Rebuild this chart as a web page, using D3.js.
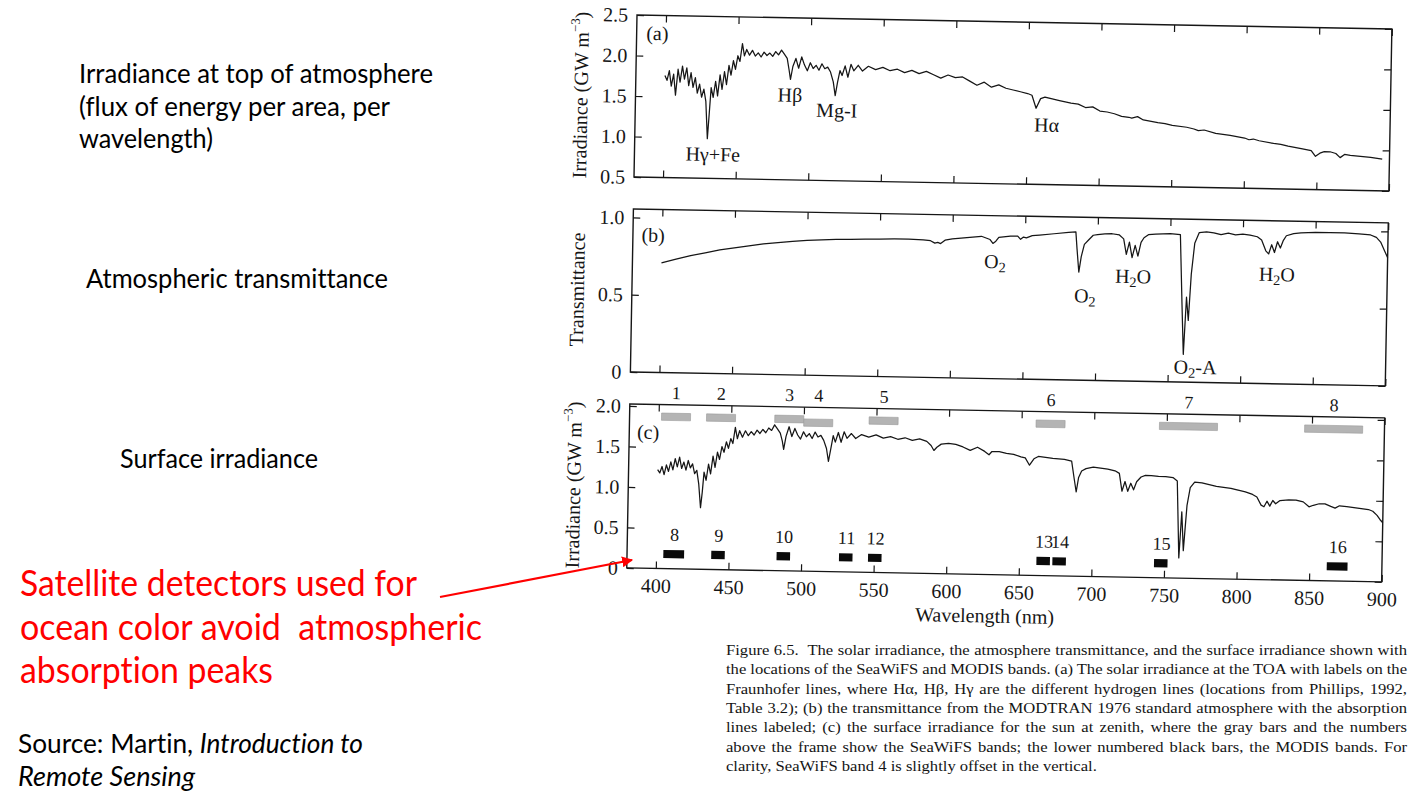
<!DOCTYPE html>
<html><head><meta charset="utf-8">
<script src="https://cdn.jsdelivr.net/npm/d3@7"></script>
<style>html,body{margin:0;padding:0;background:#fff;}svg{display:block;}</style>
</head><body>
<svg id="chart" width="1428" height="796"></svg>
<script>
// ---------------- data ----------------
const toaWavelength = [400,401.5,403,404.5,406,407.5,409,410.5,412,413.5,415,416.5,418,419.5,421,422.5,424,425.5,427,428.5,430,431,432,433.5,435,436.5,438,439.5,441,442.5,444,445.5,447,448.5,450,451.5,453,454.5,456,458,460,462,464,466,468,470,472,474,476,478,480,482,484,485.5,486.5,488,490,492,494,496,498,500,502,504,506,508,510,512,514,516,517.5,519,520.5,522,524,526,528,530,533,536,540,545,550,555,560,565,570,575,580,585,590,595,600,605,610,615,620,625,630,635,640,645,650,653,656,659,662,667,672,680,685,690,695,700,705,710,715,720,722,726,730,740,745,750,760,765,768,772,780,785,790,800,803,806,810,820,825,830,840,846,849,852,855,859,863,866,869,873,880,887,895];
const toaIrradiance = [1.76,1.70,1.82,1.63,1.78,1.52,1.84,1.68,1.88,1.72,1.86,1.64,1.80,1.62,1.74,1.55,1.66,1.50,1.60,1.45,0.99,1.30,1.62,1.50,1.70,1.52,1.78,1.60,1.82,1.66,1.90,1.78,1.96,1.85,2.02,1.95,2.17,2.02,2.10,2.03,2.09,2.02,2.06,2.01,2.07,2.03,2.06,2.02,2.08,2.04,2.10,2.05,2.00,1.85,1.74,1.90,2.00,1.88,2.02,1.92,1.85,1.95,1.88,1.92,1.86,1.94,1.88,1.90,1.84,1.72,1.55,1.72,1.86,1.80,1.92,1.78,1.94,1.86,1.93,1.86,1.92,1.88,1.91,1.87,1.89,1.85,1.88,1.84,1.87,1.83,1.79,1.83,1.80,1.81,1.76,1.71,1.75,1.69,1.72,1.68,1.66,1.64,1.62,1.60,1.44,1.56,1.58,1.56,1.54,1.51,1.50,1.46,1.47,1.42,1.41,1.39,1.36,1.35,1.34,1.36,1.32,1.29,1.28,1.26,1.24,1.22,1.20,1.21,1.17,1.16,1.15,1.12,1.10,1.11,1.09,1.06,1.05,1.03,1.00,0.98,0.91,0.95,0.97,0.97,0.95,0.90,0.94,0.93,0.92,0.91,0.89];

const transWavelength = [400,410,420,430,440,450,460,470,480,490,500,510,520,530,540,550,560,570,580,585,588,590,592,595,600,610,620,626,628,630,632,640,645,647,649,651,655,660,670,680,685,686,687.5,689,691,694,697,700,705,710,715,718,720,722,724,726,728,730,732,735,740,750,757,759,760.5,762,763.5,765,767,770,775,780,785,790,795,800,805,810,813,816,818,820,822,824,826,828,830,835,840,850,860,870,880,888,892,895,898,900];
const transmittance = [0.71,0.735,0.76,0.78,0.80,0.815,0.83,0.845,0.855,0.865,0.872,0.878,0.882,0.885,0.888,0.89,0.892,0.893,0.89,0.885,0.87,0.875,0.868,0.89,0.90,0.91,0.92,0.90,0.875,0.89,0.915,0.925,0.925,0.905,0.92,0.915,0.93,0.935,0.945,0.955,0.96,0.85,0.70,0.80,0.88,0.91,0.94,0.945,0.95,0.952,0.945,0.92,0.82,0.90,0.80,0.88,0.81,0.90,0.93,0.95,0.955,0.96,0.955,0.50,0.18,0.55,0.40,0.70,0.90,0.97,0.975,0.97,0.96,0.97,0.96,0.965,0.96,0.95,0.93,0.86,0.84,0.90,0.85,0.92,0.88,0.93,0.96,0.975,0.98,0.985,0.985,0.985,0.98,0.975,0.96,0.93,0.87,0.83];

const sfcWavelength = [400,401.5,403,404.5,406,407.5,409,410.5,412,413.5,415,416.5,418,419.5,421,422.5,424,425.5,427,428.5,430,431,432,433.5,435,436.5,438,439.5,441,442.5,444,445.5,447,448.5,450,451.5,453,454.5,456,458,460,462,464,466,468,470,472,474,476,478,480,482,484,485.5,486.5,488,490,492,494,496,498,500,502,504,506,508,510,512,514,516,517.5,519,520.5,522,524,526,528,530,533,536,540,545,550,555,560,565,570,575,580,585,588,590,592,595,600,605,610,615,620,625,628,630,635,640,645,650,653,656,659,662,667,672,680,685,687,688.5,690,692,695,700,705,710,715,718,720,722,724,726,728,730,733,736,740,745,750,755,758,760,761.5,763,765,767,770,775,780,785,790,795,800,805,810,813,816,818,820,822,824,826,829,835,840,845,849,852,856,860,864,867,870,875,880,885,890,893,896,898,900];
const sfcIrradiance = [1.22,1.18,1.26,1.16,1.28,1.20,1.32,1.22,1.36,1.26,1.38,1.24,1.32,1.22,1.34,1.25,1.30,1.18,1.22,1.05,0.76,0.95,1.20,1.10,1.30,1.18,1.40,1.26,1.45,1.36,1.52,1.45,1.58,1.50,1.62,1.56,1.76,1.62,1.72,1.64,1.72,1.66,1.71,1.67,1.73,1.69,1.74,1.70,1.76,1.73,1.80,1.75,1.70,1.60,1.50,1.66,1.78,1.66,1.76,1.68,1.63,1.72,1.66,1.70,1.64,1.72,1.66,1.68,1.62,1.52,1.36,1.52,1.68,1.60,1.72,1.60,1.73,1.65,1.71,1.65,1.70,1.67,1.70,1.66,1.68,1.65,1.67,1.64,1.66,1.63,1.58,1.52,1.56,1.60,1.61,1.60,1.57,1.53,1.57,1.52,1.48,1.52,1.52,1.50,1.49,1.46,1.45,1.36,1.44,1.47,1.46,1.45,1.44,1.42,1.20,1.04,1.22,1.30,1.33,1.35,1.34,1.33,1.31,1.28,1.06,1.18,1.06,1.16,1.08,1.18,1.24,1.26,1.26,1.25,1.25,1.24,1.20,0.25,0.82,0.34,0.90,1.12,1.19,1.18,1.16,1.14,1.13,1.12,1.10,1.08,1.05,1.02,0.92,0.90,0.97,0.91,0.98,0.94,0.98,0.99,0.99,0.97,0.91,0.93,0.95,0.95,0.92,0.90,0.93,0.92,0.91,0.90,0.89,0.87,0.82,0.77,0.73];

const seawifsBand = ["1","2","3","4","5","6","7","8"];
const seawifsLow  = [402,433,480,500,545,660,745,845];
const seawifsHigh = [422,453,500,520,565,680,785,885];
const seawifsTop  = [1.92,1.92,1.92,1.88,1.92,1.92,1.92,1.92];
const seawifsBottom = [1.83,1.83,1.83,1.79,1.83,1.83,1.83,1.83];

const modisBand = ["8","9","10","11","12","13","14","15","16"];
const modisLow  = [405,438,483,526,546,662,673,743,862];
const modisHigh = [420,448,493,536,556,672,683,753,877];

const wavelengthTicks = [400,450,500,550,600,650,700,750,800,850,900];
const irradianceTicksA = [0.5,1.0,1.5,2.0,2.5];
const transmittanceTicks = [0,0.5,1.0];
const irradianceTicksC = [0,0.5,1.0,1.5,2.0];

const fraunhoferLabels = ["Hγ+Fe","Hβ","Mg-I","Hα"];
const fraunhoferAt = [434,486.4,518.8,663.5];
const fraunhoferLevel = [0.80,1.55,1.37,1.24];

const absorptionLabels = ["O_2","O_2","H_2O","O_2-A","H_2O"];
const absorptionAt = [629.7,692,725,768.8,823.9];
const absorptionLevel = [0.76,0.55,0.68,0.10,0.71];

const captionLines = [
 "Figure 6.5.  The solar irradiance, the atmosphere transmittance, and the surface irradiance shown with",
 "the locations of the SeaWiFS and MODIS bands. (a) The solar irradiance at the TOA with labels on the",
 "Fraunhofer lines, where Hα, Hβ, Hγ are the different hydrogen lines (locations from Phillips, 1992,",
 "Table 3.2); (b) the transmittance from the MODTRAN 1976 standard atmosphere with the absorption",
 "lines labeled; (c) the surface irradiance for the sun at zenith, where the gray bars and the numbers",
 "above the frame show the SeaWiFS bands; the lower numbered black bars, the MODIS bands. For",
 "clarity, SeaWiFS band 4 is slightly offset in the vertical."
];

// ---------------- drawing ----------------
const svg = d3.select("#chart");
svg.append("rect").attr("width",1428).attr("height",796).attr("fill","#fff");
const ink = "#161616";
const serif = "'Liberation Serif','Times New Roman',serif";
const sans = "Lato,'Open Sans',sans-serif";

const pw = 755;
const x = d3.scaleLinear().domain([380,900]).range([0,pw]);

const fig = svg.append("g").attr("transform","rotate(1.06,637,15)");

function richText(sel, str, size){
  const parts = str.split(/(_\d)/).filter(p=>p.length);
  let up = false;
  parts.forEach(p=>{
    if (p.startsWith("_")) {
      sel.append("tspan").attr("font-size", size*0.72).attr("dy", size*0.3).text(p.slice(1));
      up = true;
    } else {
      const t = sel.append("tspan").text(p);
      if (up) { t.attr("dy", -size*0.3); up = false; }
    }
  });
}

function panel(top, h, yDomain, yTicks, fmt, xLabels){
  const g = fig.append("g").attr("transform",`translate(637,${top})`);
  const y = d3.scaleLinear().domain(yDomain).range([h,0]);
  const style = a => {
    a.select(".domain").remove();
    a.selectAll("line").attr("stroke",ink).attr("stroke-width",1.2);
    a.selectAll("text").attr("fill",ink).attr("font-family",serif).attr("font-size",20);
  };
  g.append("g").attr("transform",`translate(0,${h})`)
    .call(d3.axisBottom(x).tickValues(wavelengthTicks).tickSize(-7).tickPadding(10)
      .tickFormat(xLabels ? d3.format("d") : () => "")).call(style);
  g.append("g").call(d3.axisTop(x).tickValues(wavelengthTicks).tickSize(-7).tickFormat(()=>"")).call(style);
  g.append("g").call(d3.axisLeft(y).tickValues(yTicks).tickSize(-7).tickPadding(9).tickFormat(fmt)).call(style);
  g.append("g").attr("transform",`translate(${pw},0)`)
    .call(d3.axisRight(y).tickValues(yTicks).tickSize(-7).tickFormat(()=>"")).call(style);
  g.append("rect").attr("width",pw).attr("height",h).attr("fill","none")
    .attr("stroke",ink).attr("stroke-width",1.4);
  return {g,y,h};
}
const fmt1 = d => d === 0 ? "0" : d.toFixed(1);

function curve(p, wl, vals){
  const pts = wl.map((w,i)=>[w, vals[i]]);
  p.g.append("path").datum(pts)
    .attr("d", d3.line().x(d=>x(d[0])).y(d=>p.y(d[1])))
    .attr("fill","none").attr("stroke",ink).attr("stroke-width",1.25).attr("stroke-linejoin","round");
}

function yLabel(p, withUnit, label){
  const t = p.g.append("text").attr("transform",`translate(-55,${p.h/2}) rotate(-90)`)
    .attr("text-anchor","middle").attr("dominant-baseline","central")
    .attr("font-family",serif).attr("font-size",20).attr("fill",ink);
  if (withUnit) {
    t.append("tspan").text("Irradiance (GW m");
    t.append("tspan").attr("font-size",13).attr("dy",-7).text("−3");
    t.append("tspan").attr("dy",7).text(")");
  } else t.text(label);
}

function panelLetter(p, letter, w, v){
  p.g.append("text").attr("x",x(w)).attr("y",p.y(v)).attr("text-anchor","middle")
    .attr("dominant-baseline","central").attr("font-family",serif).attr("font-size",20)
    .attr("fill",ink).text(letter);
}

// Panel (a)
const pA = panel(15,162,[0.5,2.5],irradianceTicksA,d3.format(".1f"),false);
curve(pA, toaWavelength, toaIrradiance);
yLabel(pA,true);
panelLetter(pA,"(a)",394.3,2.28);
fraunhoferLabels.forEach((l,i)=>{
  pA.g.append("text").attr("x",x(fraunhoferAt[i])).attr("y",pA.y(fraunhoferLevel[i]))
    .attr("text-anchor","middle").attr("dominant-baseline","central")
    .attr("font-family",serif).attr("font-size",20).attr("fill",ink).text(l);
});

// Panel (b)
const pB = panel(209,163,[0,1.055],transmittanceTicks,fmt1,false);
curve(pB, transWavelength, transmittance);
yLabel(pB,false,"Transmittance");
panelLetter(pB,"(b)",394,0.89);
absorptionLabels.forEach((l,i)=>{
  const t = pB.g.append("text").attr("x",x(absorptionAt[i])).attr("y",pB.y(absorptionLevel[i]))
    .attr("text-anchor","middle").attr("dominant-baseline","central")
    .attr("font-family",serif).attr("font-size",20).attr("fill",ink);
  richText(t,l,20);
});

// Panel (c)
const pC = panel(404,164,[0,2.025],irradianceTicksC,fmt1,true);
curve(pC, sfcWavelength, sfcIrradiance);
yLabel(pC,true);
panelLetter(pC,"(c)",393,1.685);
pC.g.append("text").attr("x",x(627)).attr("y",pC.h+48).attr("text-anchor","middle")
  .attr("font-family",serif).attr("font-size",20).attr("fill",ink).text("Wavelength (nm)");

// SeaWiFS bands (gray)
seawifsBand.forEach((b,i)=>{
  pC.g.append("rect").attr("x",x(seawifsLow[i])).attr("y",pC.y(seawifsTop[i]))
    .attr("width",x(seawifsHigh[i])-x(seawifsLow[i]))
    .attr("height",pC.y(seawifsBottom[i])-pC.y(seawifsTop[i]))
    .attr("fill","#b4b4b4").attr("stroke","#9a9a9a").attr("stroke-width",0.6);
  pC.g.append("text").attr("x",x((seawifsLow[i]+seawifsHigh[i])/2)).attr("y",pC.y(2.17))
    .attr("text-anchor","middle").attr("dominant-baseline","central")
    .attr("font-family",serif).attr("font-size",18).attr("fill",ink).text(b);
});
// MODIS bands (black)
modisBand.forEach((b,i)=>{
  pC.g.append("rect").attr("x",x(modisLow[i])).attr("y",pC.y(0.23))
    .attr("width",x(modisHigh[i])-x(modisLow[i])-1)
    .attr("height",pC.y(0.13)-pC.y(0.23)).attr("fill","#0a0a0a");
  pC.g.append("text").attr("x",x((modisLow[i]+modisHigh[i])/2)).attr("y",pC.y(0.42))
    .attr("text-anchor","middle").attr("dominant-baseline","central")
    .attr("font-family",serif).attr("font-size",18).attr("fill",ink).text(b);
});

// Caption: serif, justified with word spacing
const cap = svg.append("g").attr("font-family",serif).attr("font-size",14.6).attr("fill","#141414");
const capX = 726, capW = 681, lastW = 371;
const capTexts = captionLines.map(l=>cap.append("text").attr("x",0).attr("y",0)
  .style("white-space","pre").text(l));
const lastLen = capTexts[capTexts.length-1].node().getComputedTextLength();
const sx = lastW / lastLen;
capTexts.forEach((t,i)=>{
  t.attr("transform",`translate(${capX},${655+i*19.3}) scale(${sx},1)`);
  if (i < capTexts.length-1) {
    const len = t.node().getComputedTextLength();
    const spaces = (captionLines[i].match(/ /g)||[]).length;
    t.attr("word-spacing", (capW/sx - len)/spaces);
  }
});

// Left-hand slide text
const side = svg.append("g").attr("font-family",sans).style("font-variant-ligatures","none");
const blackLines = [
  ["Irradiance at top of atmosphere",79,83,354],
  ["(flux of energy per area, per",79,116,311],
  ["wavelength)",79,148,134],
  ["Atmospheric transmittance",86,288,302],
  ["Surface irradiance",120,468,198]
];
blackLines.forEach(d=>side.append("text").attr("x",d[1]).attr("y",d[2])
  .attr("font-size",26.5).attr("fill","#000").attr("textLength",d[3])
  .attr("lengthAdjust","spacingAndGlyphs").text(d[0]));

const redLines = [
  ["Satellite detectors used for",20,596,397],
  ["ocean color avoid\u00a0 atmospheric",20,640,462],
  ["absorption peaks",20,683,253]
];
redLines.forEach(d=>side.append("text").attr("x",d[1]).attr("y",d[2])
  .attr("font-size",36).attr("fill","#ff0000").attr("textLength",d[3])
  .attr("lengthAdjust","spacingAndGlyphs").text(d[0]));

const src1 = side.append("text").attr("x",18).attr("y",753).attr("font-size",26.5).attr("fill","#000")
  .attr("textLength",345).attr("lengthAdjust","spacingAndGlyphs");
src1.append("tspan").text("Source: Martin, ");
src1.append("tspan").attr("font-style","italic").text("Introduction to");
side.append("text").attr("x",18).attr("y",786).attr("font-size",26.5).attr("font-style","italic")
  .attr("fill","#000").attr("textLength",177).attr("lengthAdjust","spacingAndGlyphs").text("Remote Sensing");

// Red arrow
const defs = svg.append("defs");
defs.append("marker").attr("id","arr").attr("viewBox","0 0 10 10").attr("refX",9).attr("refY",5)
  .attr("markerWidth",5).attr("markerHeight",5).attr("orient","auto")
  .append("path").attr("d","M0,0 L10,5 L0,10 z").attr("fill","#ff0000");
svg.append("line").attr("x1",440).attr("y1",597).attr("x2",632).attr("y2",560)
  .attr("stroke","#ff0000").attr("stroke-width",2.2).attr("marker-end","url(#arr)");
</script>
</body></html>
